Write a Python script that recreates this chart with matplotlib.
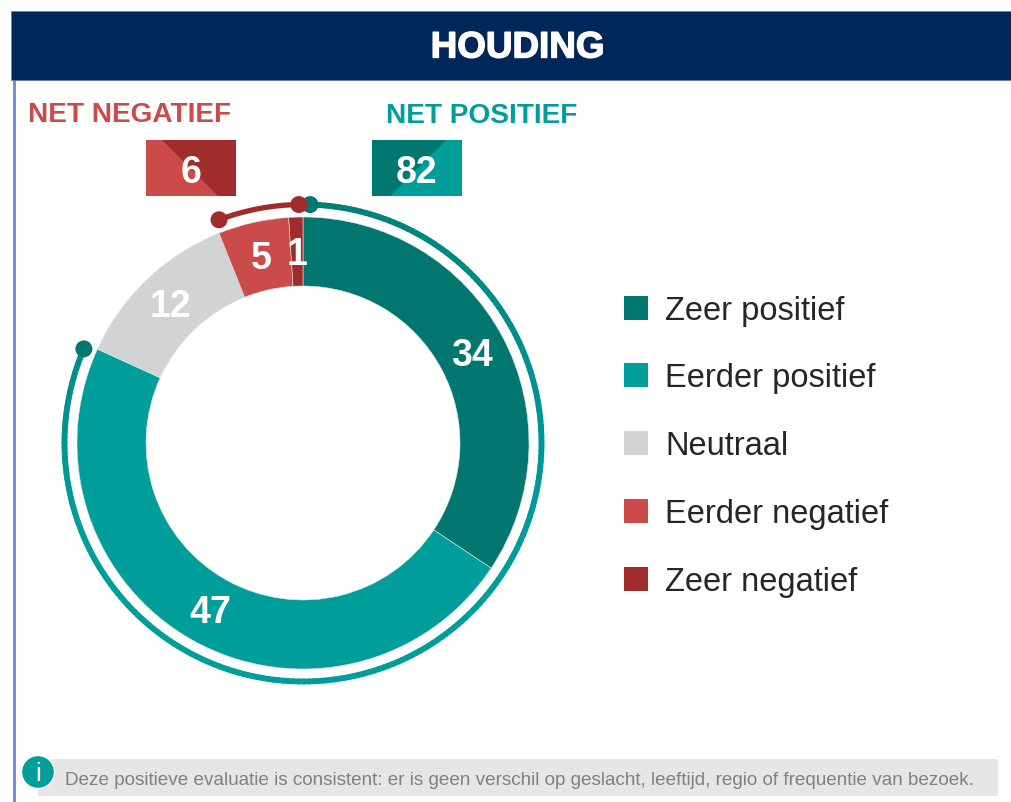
import numpy as np
import matplotlib
matplotlib.use('Agg')
import matplotlib.pyplot as plt
from matplotlib.collections import LineCollection
from matplotlib.colors import to_rgb
from matplotlib.patches import Arc, Circle, Polygon, Rectangle
import matplotlib.patheffects as pe

plt.rcParams['font.family'] = ['Liberation Sans', 'DejaVu Sans']

W, H = 1011, 803

categories = ['Zeer positief', 'Eerder positief', 'Neutraal', 'Eerder negatief', 'Zeer negatief']
values = [34, 47, 12, 5, 1]
net_negatief = 6
net_positief = 82
colors = ['#02776f', '#009e9b', '#d1d3d4', '#cb4b4b', '#a02c2c']
title = 'HOUDING'
note = 'Deze positieve evaluatie is consistent: er is geen verschil op geslacht, leeftijd, regio of frequentie van bezoek.'

TEAL_DARK, TEAL, GREY, RED, RED_DARK = colors


def py(y):
    # picture y (from the top) to axes y
    return H - y - 1


fig = plt.figure(figsize=(W / 100, H / 100), dpi=100)
ax = fig.add_axes([0, 0, 1, 1])

# donut
cx, cy = 303, py(443)
outer, inner = 226, 157
wedges, _ = ax.pie(values, colors=colors, startangle=90, counterclock=False,
                   center=(cx, cy), radius=outer, frame=True,
                   wedgeprops={'width': outer - inner, 'linewidth': 0.4, 'edgecolor': '#dfe6e6'})
ax.set_xlim(0, W)
ax.set_ylim(0, H)
ax.set_aspect('auto')
ax.axis('off')

# header and left rule
ax.add_patch(Rectangle((13, 0), 3, py(80), color='#7b8fd8', lw=0))
ax.add_patch(Rectangle((11, py(80)), W - 11, 69, facecolor='#00265a', edgecolor='#5f78a8', lw=0.5))
ax.text(517.5, py(48), title, color='white', fontsize=26.5, fontweight='bold',
        ha='center', va='center',
        path_effects=[pe.withStroke(linewidth=1.0, foreground='white')])

for wedge, value in zip(wedges, values):
    mid = np.radians((wedge.theta1 + wedge.theta2) / 2)
    r = (outer + inner) / 2
    ax.text(cx + r * np.cos(mid), cy + r * np.sin(mid) - 2, str(value), color='white',
            fontsize=27, fontweight='bold', ha='center', va='center')

# net arcs around the donut
total = sum(values)
arc_r = 238.5
pos_span = (values[0] + values[1]) / total * 360 - 1.3
neg_span = (values[3] + values[4]) / total * 360 - 1.2

# positive arc fades from dark teal at its ends to teal along the bottom
angles = np.linspace(88.3, 90 - pos_span, 240)
pts = np.column_stack([cx + arc_r * np.cos(np.radians(angles)), cy + arc_r * np.sin(np.radians(angles))])
segs = np.stack([pts[:-1], pts[1:]], axis=1)
t = np.linspace(0, 1, len(segs))
dark, light = np.array(to_rgb('#007d79')), np.array(to_rgb(TEAL))
mix = np.interp(t, [0, 0.4, 0.85, 1], [0, 1, 1, 0.45])
seg_colors = dark + (light - dark) * mix[:, None]
ax.add_collection(LineCollection(segs, colors=seg_colors, linewidths=4.2, capstyle='round'))

ax.add_patch(Arc((cx, cy), 2 * arc_r, 2 * arc_r, theta1=91, theta2=90 + neg_span,
                 color=RED_DARK, lw=3.8))
for ang, col in [(88.3, TEAL_DARK), (90 - pos_span, TEAL_DARK), (91, RED_DARK), (90 + neg_span, RED_DARK)]:
    a = np.radians(ang)
    ax.add_patch(Circle((cx + arc_r * np.cos(a), cy + arc_r * np.sin(a)), 8.5, color=col, lw=0, zorder=4))

# net headings
ax.text(28, py(114), 'NET NEGATIEF', color=RED, fontsize=20.2, fontweight='bold', ha='left', va='center')
ax.text(386, py(115), 'NET POSITIEF', color=TEAL, fontsize=20.2, fontweight='bold', ha='left', va='center')

# net boxes
ax.add_patch(Rectangle((146, py(196)), 90, 56, color=RED, lw=0))
ax.add_patch(Polygon([(162, py(140)), (236, py(140)), (236, py(196)), (218, py(196))], color=RED_DARK, lw=0))
ax.add_patch(Rectangle((372, py(196)), 90, 56, color=TEAL, lw=0))
ax.add_patch(Polygon([(372, py(140)), (446, py(140)), (390, py(196)), (372, py(196))], color=TEAL_DARK, lw=0))
ax.text(191, py(172), str(net_negatief), color='white', fontsize=27, fontweight='bold', ha='center', va='center')
ax.text(417, py(172), str(net_positief), color='white', fontsize=27, fontweight='bold', ha='center', va='center')

# legend
legend_y = [308, 375, 443, 511, 579]
for y, name, col in zip(legend_y, categories, colors):
    ax.add_patch(Rectangle((624, py(y + 12)), 24, 24, color=col, lw=0))
    ax.text(665, py(y + 3), name, color='#262626', fontsize=23.5, ha='left', va='center')

# footnote
ax.add_patch(Rectangle((38, py(796)), 960, 37, color='#e6e6e6', lw=0))
ax.add_patch(Circle((38, py(772)), 16.5, facecolor=TEAL, edgecolor='white', lw=1, zorder=3))
ax.text(38, py(773), 'i', color='white', fontsize=19, ha='center', va='center', zorder=4)
ax.text(65, py(780), note, color='#808080', fontsize=13.56, ha='left', va='center')

fig.savefig('out.png', dpi=100)
